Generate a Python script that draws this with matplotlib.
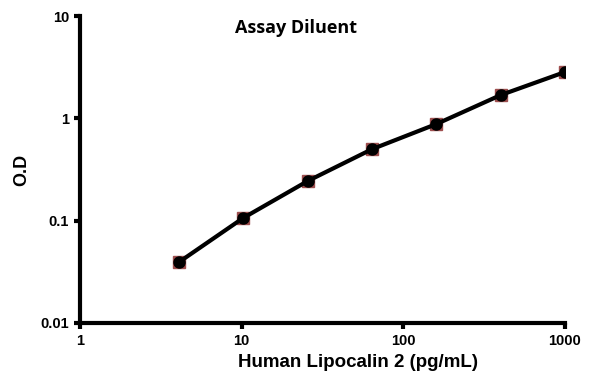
import matplotlib.pyplot as plt

conc = [4.1, 10.2, 25.6, 64, 160, 400, 1000]   # pg/mL
od = [0.0394, 0.106, 0.244, 0.50, 0.88, 1.69, 2.84]

plt.rcParams['font.family'] = ['Liberation Sans', 'DejaVu Sans']
plt.rcParams['font.weight'] = 'bold'

fig = plt.figure(figsize=(5.95, 3.84), dpi=100)
ax = fig.add_axes([0.1345, 0.159, 0.815, 0.799])

ax.plot(conc, od, 's', color='#9e4f4f', markersize=9, zorder=2)
ax.plot(conc, od, '-', color='black', linewidth=3, zorder=3)
ax.plot(conc, od, 'o', color='black', markersize=8, zorder=4)

ax.set_xscale('log')
ax.set_yscale('log')
ax.set_xlim(1, 1000)
ax.set_ylim(0.01, 10)
ax.set_xticks([1, 10, 100, 1000])
ax.set_xticklabels(['1', '10', '100', '1000'])
ax.set_yticks([0.01, 0.1, 1, 10])
ax.set_yticklabels(['0.01', '0.1', '1', '10'])
ax.minorticks_off()

for s in ['top', 'right']:
    ax.spines[s].set_visible(False)
for s in ['left', 'bottom']:
    ax.spines[s].set_linewidth(3)
ax.tick_params(width=3, length=4, labelsize=10.5, pad=4)
for lab in ax.get_xticklabels() + ax.get_yticklabels():
    lab.set_fontweight('bold')

ax.set_xlabel('Human Lipocalin 2 (pg/mL)', fontsize=13.5, fontweight='bold')
ax.xaxis.set_label_coords(0.573, -0.1)
ax.set_ylabel('O.D', fontsize=13, fontweight='bold')
ax.yaxis.set_label_coords(-0.103, 0.5)
ax.text(0.445, 0.96, 'Assay Diluent', transform=ax.transAxes, fontsize=13,
        fontweight='bold', ha='center', va='center', family=['Open Sans', 'DejaVu Sans'])

fig.savefig('out.png', dpi=100)
